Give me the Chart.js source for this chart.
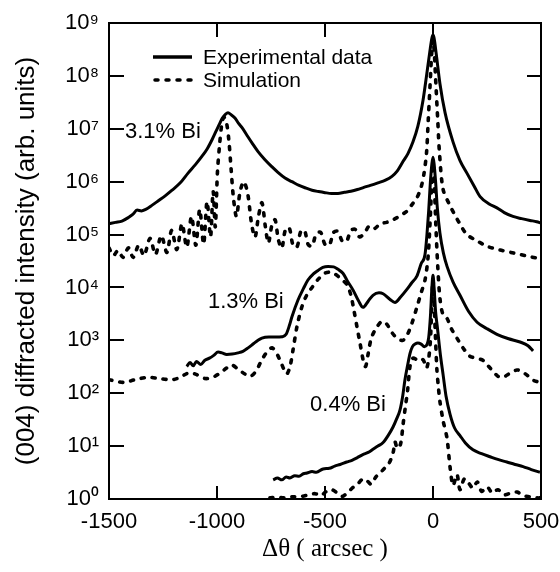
<!DOCTYPE html>
<html><head><meta charset="utf-8">
<script src="https://cdn.jsdelivr.net/npm/chart.js@4.4.1/dist/chart.umd.min.js"></script>
<style>html,body{margin:0;padding:0;background:#fff}</style>
</head><body>
<canvas id="c" width="560" height="572"></canvas>
<script>
// ---- data: [Δθ (arcsec), intensity (arb. units)] ----
const exp31 = [[-1500,1.6e5],[-1470,1.7e5],[-1440,1.8e5],[-1410,2.1e5],[-1390,2.4e5],[-1370,2.9e5],[-1350,2.8e5],[-1330,3.0e5],[-1300,3.6e5],[-1270,4.4e5],[-1240,5.4e5],[-1208,6.9e5],[-1170,9.5e5],[-1134,1.45e6],[-1100,2.1e6],[-1070,3.0e6],[-1045,4.2e6],[-1023,6.2e6],[-1005,8.9e6],[-990,1.2e7],[-975,1.6e7],[-960,1.9e7],[-949,2.0e7],[-935,1.85e7],[-917,1.6e7],[-900,1.26e7],[-884,1.05e7],[-860,7.4e6],[-838,5.4e6],[-810,3.7e6],[-778,2.6e6],[-745,1.9e6],[-718,1.5e6],[-685,1.17e6],[-653,1.0e6],[-620,8.5e5],[-590,7.6e5],[-560,6.9e5],[-530,6.5e5],[-500,6.2e5],[-470,6.0e5],[-440,6.0e5],[-410,6.3e5],[-380,6.6e5],[-350,7.1e5],[-320,7.8e5],[-290,8.5e5],[-255,9.5e5],[-220,1.07e6],[-190,1.26e6],[-165,1.6e6],[-139,2.4e6],[-116,3.4e6],[-93,5.6e6],[-70,1.12e7],[-46,3.5e7],[-30,1.0e8],[-15,2.8e8],[-5,5.2e8],[0,5.9e8],[5,5.2e8],[15,2.6e8],[32,7.2e7],[56,2.0e7],[93,5.6e6],[125,2.5e6],[157,1.45e6],[190,8.3e5],[218,5.2e5],[260,3.8e5],[296,3.2e5],[330,2.6e5],[370,2.2e5],[410,2.0e5],[449,1.85e5],[480,1.75e5],[500,1.65e5]];
const sim31 = [[-1500,5.6e4],[-1480,4.0e4],[-1458,5.0e4],[-1435,3.7e4],[-1410,5.6e4],[-1388,3.7e4],[-1362,6.3e4],[-1338,4.0e4],[-1310,8.5e4],[-1285,4.2e4],[-1258,9.5e4],[-1232,4.6e4],[-1210,1.2e5],[-1186,5.2e4],[-1162,1.6e5],[-1140,5.8e4],[-1118,2.2e5],[-1098,6.3e4],[-1080,3.0e5],[-1062,6.6e4],[-1046,4.2e5],[-1030,9.0e4],[-1018,6.6e5],[-1008,1.4e5],[-998,1.5e6],[-988,5.0e6],[-978,1.2e7],[-968,1.66e7],[-956,1.3e7],[-945,6.0e6],[-935,1.8e6],[-924,5.0e5],[-910,2.2e5],[-893,6.5e5],[-876,1.0e6],[-858,6.0e5],[-840,1.6e5],[-824,8.9e4],[-808,2.2e5],[-792,4.0e5],[-776,1.4e5],[-762,6.9e4],[-746,1.5e5],[-731,1.9e5],[-716,8.0e4],[-700,5.5e4],[-684,1.2e5],[-666,1.35e5],[-648,6.3e4],[-630,5.8e4],[-612,1.15e5],[-595,1.2e5],[-578,6.5e4],[-560,6.0e4],[-540,1.05e5],[-520,1.1e5],[-500,6.5e4],[-480,6.3e4],[-460,1.1e5],[-440,1.15e5],[-420,7.5e4],[-400,7.5e4],[-380,1.2e5],[-360,1.25e5],[-340,9.0e4],[-315,1.1e5],[-295,1.45e5],[-270,1.3e5],[-245,1.6e5],[-215,1.7e5],[-185,1.9e5],[-150,2.3e5],[-120,2.8e5],[-95,3.8e5],[-74,5.0e5],[-55,7.9e5],[-42,1.4e6],[-30,3.5e6],[-22,1.45e7],[-14,6.2e7],[-6,2.7e8],[0,4.8e8],[6,2.7e8],[14,6.2e7],[22,1.45e7],[30,3.5e6],[47,7.1e5],[79,3.5e5],[100,2.4e5],[125,1.58e5],[157,1.0e5],[204,7.6e4],[250,6.0e4],[310,5.1e4],[360,4.6e4],[403,4.2e4],[450,3.8e4],[500,3.5e4]];
const exp13 = [[-1140,3.2e2],[-1125,3.8e2],[-1110,3.3e2],[-1095,4.0e2],[-1075,3.5e2],[-1056,4.2e2],[-1035,4.6e2],[-1015,5.2e2],[-995,6.0e2],[-977,5.8e2],[-955,5.4e2],[-930,5.5e2],[-903,5.8e2],[-880,6.2e2],[-856,7.2e2],[-830,8.7e2],[-810,1.0e3],[-792,1.1e3],[-760,1.15e3],[-730,1.15e3],[-699,1.17e3],[-680,1.3e3],[-665,1.9e3],[-653,2.8e3],[-625,5.8e3],[-600,9.5e3],[-579,1.38e4],[-555,1.78e4],[-532,2.1e4],[-510,2.4e4],[-486,2.5e4],[-460,2.45e4],[-440,2.2e4],[-417,1.86e4],[-395,1.3e4],[-370,8.9e3],[-345,5.6e3],[-324,4.2e3],[-300,5.5e3],[-278,7.1e3],[-250,7.9e3],[-231,7.6e3],[-200,6.0e3],[-176,5.2e3],[-150,6.6e3],[-120,9.3e3],[-100,1.2e4],[-74,1.66e4],[-55,2.8e4],[-37,4.2e4],[-28,1.0e5],[-20,2.8e5],[-12,1.0e6],[-5,2.2e6],[0,2.9e6],[5,2.2e6],[12,1.0e6],[20,3.2e5],[32,1.07e5],[48,4.5e4],[65,2.5e4],[93,1.26e4],[125,7.1e3],[165,3.5e3],[204,2.2e3],[250,1.66e3],[296,1.3e3],[350,1.07e3],[403,9.3e2],[440,7.9e2],[463,6.3e2]];
const sim13 = [[-1500,1.8e2],[-1460,1.66e2],[-1426,1.6e2],[-1380,1.8e2],[-1319,2.0e2],[-1270,1.9e2],[-1208,1.8e2],[-1170,2.0e2],[-1134,2.4e2],[-1100,2.3e2],[-1056,1.9e2],[-1020,2.0e2],[-986,2.4e2],[-955,3.0e2],[-931,3.4e2],[-900,2.8e2],[-870,2.3e2],[-845,2.1e2],[-820,2.6e2],[-792,4.3e2],[-765,6.3e2],[-745,7.2e2],[-725,5.8e2],[-700,3.5e2],[-678,2.3e2],[-662,3.2e2],[-648,6.6e2],[-630,1.8e3],[-607,4.3e3],[-585,7.1e3],[-560,1.0e4],[-530,1.45e4],[-500,1.86e4],[-475,1.95e4],[-454,1.8e4],[-430,1.5e4],[-398,1.12e4],[-380,7.1e3],[-365,3.5e3],[-352,1.8e3],[-338,8.9e2],[-322,4.0e2],[-312,3.2e2],[-300,5.6e2],[-285,1.12e3],[-259,1.8e3],[-235,2.3e3],[-213,2.0e3],[-190,1.4e3],[-167,1.1e3],[-140,1.0e3],[-118,1.3e3],[-96,2.2e3],[-74,4.3e3],[-55,7.9e3],[-37,1.38e4],[-23,3.7e4],[-14,1.58e5],[-6,8.9e5],[0,2.2e6],[6,8.9e5],[14,1.26e5],[22,2.5e4],[32,6.3e3],[45,3.2e3],[65,2.6e3],[85,1.66e3],[111,1.1e3],[140,7.1e2],[171,5.0e2],[200,4.6e2],[231,4.2e2],[255,3.3e2],[278,2.6e2],[300,2.1e2],[324,2.0e2],[350,2.3e2],[389,2.75e2],[415,2.5e2],[435,2.2e2],[460,1.8e2],[481,1.66e2],[500,1.6e2]];
const exp04 = [[-740,2.3],[-720,2.5],[-700,2.3],[-680,2.6],[-662,2.5],[-640,2.75],[-620,2.7],[-600,3.0],[-583,3.1],[-560,3.3],[-540,3.2],[-509,3.7],[-480,3.8],[-455,4.2],[-430,4.5],[-400,5.0],[-375,5.4],[-352,6.0],[-325,6.9],[-300,7.6],[-278,8.7],[-255,10],[-231,11.7],[-208,15.8],[-185,23],[-168,33],[-153,48],[-140,90],[-130,178],[-118,330],[-106,575],[-95,760],[-83,850],[-70,890],[-55,850],[-40,760],[-28,830],[-20,1.12e3],[-12,2.8e3],[-5,1.0e4],[0,1.7e4],[5,1.0e4],[12,3.5e3],[20,1.8e3],[28,890],[35,500],[47,220],[60,90],[79,40],[100,22],[125,15.8],[150,11.5],[185,8.5],[225,7.2],[264,6.3],[300,5.6],[342,5.0],[380,4.5],[417,4.1],[455,3.6],[495,3.2]];
const sim04 = [[-755,1.05],[-720,1.08],[-690,1.05],[-650,1.1],[-610,1.12],[-575,1.2],[-545,1.26],[-520,1.15],[-495,1.38],[-470,1.5],[-445,1.32],[-420,1.12],[-398,1.3],[-370,1.66],[-345,2.0],[-324,2.4],[-305,2.2],[-285,1.9],[-265,2.6],[-245,3.1],[-225,3.8],[-205,4.6],[-185,7.4],[-176,12],[-165,9],[-150,11],[-139,25],[-128,55],[-118,110],[-106,330],[-93,460],[-75,430],[-60,400],[-46,430],[-30,300],[-20,450],[-12,1.0e3],[-6,4.0e3],[0,1.4e4],[6,4.0e3],[12,1.0e3],[18,280],[25,130],[32,70],[47,30],[65,14],[79,4.0],[93,1.8],[111,2.9],[125,1.5],[145,2.4],[165,2.0],[185,1.6],[205,2.1],[225,1.4],[250,1.7],[275,1.3],[300,1.5],[330,1.2],[360,1.3],[389,1.35],[420,1.15],[449,1.1],[481,1.05],[500,1.05]];

const xTickValues = [-1500, -1000, -500, 0, 500];
const yTickValues = [1, 10, 100, 1e3, 1e4, 1e5, 1e6, 1e7, 1e8, 1e9];
const legendLabels = ['Experimental data', 'Simulation'];
const sampleLabels = ['3.1% Bi', '1.3% Bi', '0.4% Bi'];
const sampleLabelAnchors = [[-1426, 8.7e6], [-1042, 5.3e3], [-569, 60]];
const xTitle = 'Δθ ( arcsec )';
const yTitle = '(004) diffracted intensity (arb. units)';

const SUP = ['⁰','¹','²','³','⁴','⁵','⁶','⁷','⁸','⁹'];
const toXY = arr => arr.map(p => ({x: p[0], y: p[1]}));
const solid = (label, arr) => ({label, data: toXY(arr), borderColor:'#000', borderWidth:3, pointRadius:0, fill:false, cubicInterpolationMode:'monotone'});
const dashed = (label, arr) => ({label, data: toXY(arr), borderColor:'#000', borderWidth:3.6, borderDash:[3,8], borderCapStyle:'round', pointRadius:0, fill:false, tension:0.3});

const decorPlugin = {
  id: 'decor',
  afterDatasetsDraw(chart) {
    const {ctx, chartArea: a, scales: {x, y}} = chart;
    ctx.save();
    ctx.strokeStyle = '#000';
    ctx.lineWidth = 2;
    ctx.setLineDash([]);
    ctx.strokeRect(a.left, a.top, a.right - a.left, a.bottom - a.top);
    ctx.beginPath();
    yTickValues.forEach(v => {
      if (v <= y.min || v >= y.max) return;
      const py = Math.round(y.getPixelForValue(v));
      ctx.moveTo(a.left, py); ctx.lineTo(a.left + 15, py);
      ctx.moveTo(a.right, py); ctx.lineTo(a.right - 14, py);
    });
    xTickValues.forEach(v => {
      if (v <= x.min || v >= x.max) return;
      const px = Math.round(x.getPixelForValue(v));
      ctx.moveTo(px, a.top); ctx.lineTo(px, a.top + 14);
      ctx.moveTo(px, a.bottom); ctx.lineTo(px, a.bottom - 13);
    });
    ctx.stroke();
    // legend
    ctx.fillStyle = '#000';
    ctx.textBaseline = 'middle';
    ctx.textAlign = 'left';
    ctx.font = '21px "Liberation Sans", Arial, sans-serif';
    const lx0 = a.left + 44, lx1 = a.left + 83;
    const ly = [a.top + 34, a.top + 57];
    ctx.lineWidth = 3.5;
    ctx.beginPath(); ctx.moveTo(lx0, ly[0]); ctx.lineTo(lx1, ly[0]); ctx.stroke();
    ctx.setLineDash([3, 8]); ctx.lineCap = 'round';
    ctx.beginPath(); ctx.moveTo(lx0 + 2, ly[1]); ctx.lineTo(lx1, ly[1]); ctx.stroke();
    ctx.setLineDash([]);
    legendLabels.forEach((t, i) => ctx.fillText(t, a.left + 94, ly[i] + 1));
    // sample labels
    ctx.font = '22px "Liberation Sans", Arial, sans-serif';
    sampleLabels.forEach((t, i) => {
      const [vx, vy] = sampleLabelAnchors[i];
      ctx.fillText(t, x.getPixelForValue(vx), y.getPixelForValue(vy));
    });
    ctx.restore();
  }
};

new Chart(document.getElementById('c'), {
  type: 'line',
  data: { datasets: [
    solid('3.1% Bi experimental', exp31), dashed('3.1% Bi simulation', sim31),
    solid('1.3% Bi experimental', exp13), dashed('1.3% Bi simulation', sim13),
    solid('0.4% Bi experimental', exp04), dashed('0.4% Bi simulation', sim04)
  ]},
  options: {
    responsive: false, animation: false, devicePixelRatio: 1,
    layout: { padding: { top: 23, right: 19, left: 0, bottom: 0 } },
    plugins: { legend: { display: false }, tooltip: { enabled: false } },
    scales: {
      x: {
        type: 'linear', min: -1500, max: 500,
        afterBuildTicks: s => { s.ticks = xTickValues.map(v => ({value: v})); },
        afterFit: s => { s.height = 73; s.paddingLeft = 0; s.paddingRight = 0; },
        grid: { display: false, drawTicks: false }, border: { display: false },
        ticks: { color: '#000', padding: 10, maxRotation: 0, autoSkip: false,
          font: { family: '"Liberation Sans", Arial, sans-serif', size: 22 },
          callback: v => String(v) },
        title: { display: true, text: xTitle, color: '#000',
          font: { family: '"Liberation Serif", "Times New Roman", serif', size: 25 },
          padding: { top: 0, bottom: 8 } }
      },
      y: {
        type: 'logarithmic', min: 1, max: 1e9,
        afterBuildTicks: s => { s.ticks = yTickValues.map(v => ({value: v})); },
        afterFit: s => { s.width = 109; s.paddingTop = 0; s.paddingBottom = 0; },
        grid: { display: false, drawTicks: false }, border: { display: false },
        ticks: { color: '#000', padding: 10, autoSkip: false,
          font: { family: '"Liberation Sans", Arial, sans-serif', size: 22 },
          callback: v => '10' + SUP[Math.round(Math.log10(v))] },
        title: { display: true, text: yTitle, color: '#000',
          font: { family: '"Liberation Sans", Arial, sans-serif', size: 26 },
          padding: { top: 11, bottom: 0 } }
      }
    }
  },
  plugins: [decorPlugin]
});
</script>
</body></html>
